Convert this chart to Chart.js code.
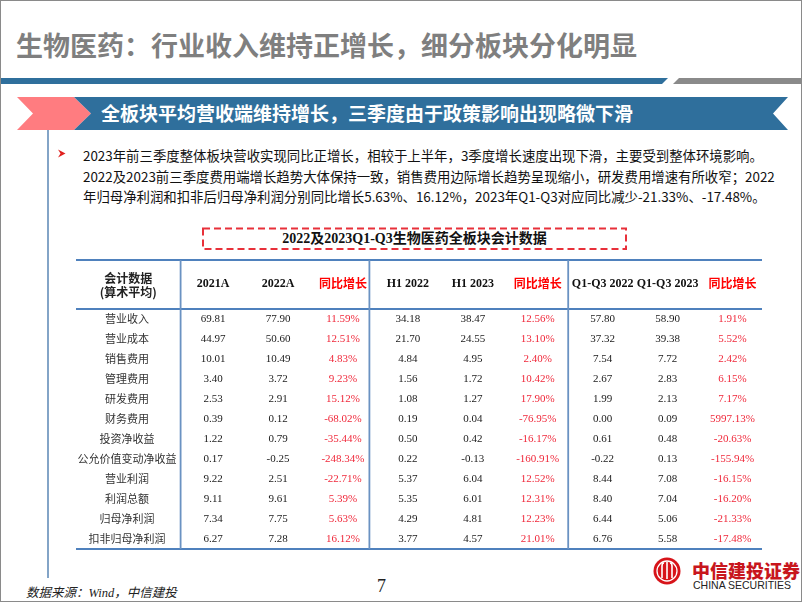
<!DOCTYPE html>
<html lang="zh">
<head>
    <meta charset="UTF-8">
    <title>生物医药会计数据</title>
    <script src="https://cdn.jsdelivr.net/npm/chart.js"></script>
    <style>
        body {
            margin: 0;
            background: #fff;
            font-family: 'Noto Sans CJK SC', sans-serif;
        }
        .slide {
            position: relative;
            width: 800px;
            height: 600px;
            border: 1px solid #8a8a8a;
            overflow: hidden;
        }
        .abs { position: absolute; white-space: nowrap; }
        .title {
            left: 15px; top: 26px;
            font-size: 27px; line-height: 36px;
            font-weight: bold; color: #7f7f7f;
        }
        .banner-text {
            left: 100px; top: 98px;
            font-size: 19px; line-height: 28px;
            font-weight: bold; color: #fff;
        }
        .bullet {
            left: 82px; top: 144px;
            font-size: 13.4px; line-height: 20.5px;
            color: #111;
        }
        .box-title {
            left: 202px; width: 423px; top: 227px;
            text-align: center;
            font-size: 14px; line-height: 22px;
            font-weight: bold; color: #111;
            font-family: 'Liberation Serif', 'Noto Sans CJK SC', serif;
        }
        .source {
            left: 25px; top: 583px;
            font-size: 12.5px; line-height: 18px;
            font-style: italic; color: #222;
            font-family: 'Liberation Serif', 'Noto Sans CJK SC', serif;
        }
        .page {
            left: 376px; top: 574px;
            font-size: 18px; line-height: 22px;
            font-family: 'Liberation Serif', serif; color: #222;
        }
        .logo-cn {
            left: 691px; top: 557px;
            font-size: 18px; line-height: 24px;
            font-weight: 900; color: #c8161d;
        }
        .logo-en {
            left: 692px; top: 577px;
            font-size: 10.5px; line-height: 14px;
            font-family: 'Liberation Sans', sans-serif; color: #222;
        }
        svg.deco, canvas { position: absolute; left: 0; top: 0; }
    </style>
</head>
<body>
<div class="slide">
    <svg class="deco" width="802" height="602">
        <!-- top bars -->
        <polygon points="0,77 667,77 661,83 0,83" fill="#2f6f9c"/>
        <polygon points="678,77 802,77 802,83 672,83" fill="#8a8a8a"/>
        <!-- ribbon -->
        <polygon points="16,96 73,96 90,112.5 73,129 16,129 32,112.5" fill="#ff7c80"/>
        <polygon points="73,96 787,96 772,112.5 787,129 73,129 90,112.5" fill="#2f6f9c"/>
        <!-- side line -->
        <line x1="47" y1="129" x2="47" y2="577" stroke="#5a86b4" stroke-width="1.5"/>
        <!-- bullet arrow -->
        <polygon points="57,148.5 64.5,152.5 57,156.5 59.5,152.5" fill="#e0201e"/>
        <!-- dashed box -->
        <rect x="202" y="227.5" width="423" height="20.5" fill="none" stroke="#e8303a" stroke-width="2" stroke-dasharray="7,4"/>
        <!-- logo -->
        <circle cx="666" cy="570" r="13.5" fill="#d7141a"/>
        <circle cx="666" cy="570" r="10" fill="none" stroke="#fff" stroke-width="1.3"/>
        <path d="M661,577 V565 Q661,562 663,562 M666,578 V561 M671,577 V565 Q671,562 669,562" stroke="#fff" stroke-width="1.6" fill="none"/>
    </svg>

    <div class="abs title">生物医药：行业收入维持正增长，细分板块分化明显</div>
    <div class="abs banner-text">全板块平均营收端维持增长，三季度由于政策影响出现略微下滑</div>
    <div class="abs bullet">
        2023年前三季度整体板块营收实现同比正增长，相较于上半年，3季度增长速度出现下滑，主要受到整体环境影响。<br>
        2022及2023前三季度费用端增长趋势大体保持一致，销售费用边际增长趋势呈现缩小，研发费用增速有所收窄；2022<br>
        年归母净利润和扣非后归母净利润分别同比增长5.63%、16.12%，2023年Q1-Q3对应同比减少-21.33%、-17.48%。
    </div>
    <div class="abs box-title">2022及2023Q1-Q3生物医药全板块会计数据</div>
    <div class="abs source">数据来源：Wind，中信建投</div>
    <div class="abs page">7</div>
    <div class="abs logo-cn">中信建投证券</div>
    <div class="abs logo-en">CHINA SECURITIES</div>

    <canvas id="tableChart" width="802" height="602"></canvas>
</div>

<script>
    // table data (算术平均)
    const rowNames = ['营业收入', '营业成本', '销售费用', '管理费用', '研发费用', '财务费用',
        '投资净收益', '公允价值变动净收益', '营业利润', '利润总额', '归母净利润', '扣非归母净利润'];
    const columns = ['2021A', '2022A', '同比增长', 'H1 2022', 'H1 2023', '同比增长',
        'Q1-Q3 2022', 'Q1-Q3 2023', '同比增长'];
    const yoyCols = [2, 5, 8];

    const v2021A = [69.81, 44.97, 10.01, 3.40, 2.53, 0.39, 1.22, 0.17, 9.22, 9.11, 7.34, 6.27];
    const v2022A = [77.90, 50.60, 10.49, 3.72, 2.91, 0.12, 0.79, -0.25, 2.51, 9.61, 7.75, 7.28];
    const yoyA = [11.59, 12.51, 4.83, 9.23, 15.12, -68.02, -35.44, -248.34, -22.71, 5.39, 5.63, 16.12];
    const h1_2022 = [34.18, 21.70, 4.84, 1.56, 1.08, 0.19, 0.50, 0.22, 5.37, 5.35, 4.29, 3.77];
    const h1_2023 = [38.47, 24.55, 4.95, 1.72, 1.27, 0.04, 0.42, -0.13, 6.04, 6.01, 4.81, 4.57];
    const yoyH1 = [12.56, 13.10, 2.40, 10.42, 17.90, -76.95, -16.17, -160.91, 12.52, 12.31, 12.23, 21.01];
    const q3_2022 = [57.80, 37.32, 7.54, 2.67, 1.99, 0.00, 0.61, -0.22, 8.44, 8.40, 6.44, 6.76];
    const q3_2023 = [58.90, 39.38, 7.72, 2.83, 2.13, 0.09, 0.48, 0.13, 7.08, 7.04, 5.06, 5.58];
    const yoyQ3 = [1.91, 5.52, 2.42, 6.15, 7.17, 5997.13, -20.63, -155.94, -16.15, -16.20, -21.33, -17.48];

    const columnValues = [v2021A, v2022A, yoyA, h1_2022, h1_2023, yoyH1, q3_2022, q3_2023, yoyQ3];

    const RED = '#f0283a';
    const LINE = '#4f81bd';

    const tablePlugin = {
        id: 'tablePlugin',
        beforeDraw(chart) {
            const c = chart.ctx;
            const xs = chart.scales.x, ys = chart.scales.y, area = chart.chartArea;
            const left = ys.left, right = area.right - 3;
            c.save();
            c.strokeStyle = LINE;
            c.lineWidth = 2;
            [xs.top, area.top, area.bottom].forEach(y => {
                c.beginPath(); c.moveTo(left, y); c.lineTo(right, y); c.stroke();
            });
            c.strokeStyle = '#6a92c2';
            c.lineWidth = 1.8;
            [area.left, xs.getPixelForValue(2.5) - 6, xs.getPixelForValue(5.5) - 2].forEach(x => {
                c.beginPath(); c.moveTo(x, xs.top); c.lineTo(x, area.bottom); c.stroke();
            });
            c.restore();
        },
        afterDatasetsDraw(chart) {
            const c = chart.ctx;
            c.save();
            c.textAlign = 'center';
            c.textBaseline = 'middle';
            c.font = '11px "Liberation Serif", serif';
            chart.data.datasets.forEach((ds, ci) => {
                const meta = chart.getDatasetMeta(ci);
                const isYoy = yoyCols.includes(ci);
                c.fillStyle = isYoy ? RED : '#1a1a1a';
                meta.data.forEach((pt, ri) => {
                    const v = columnValues[ci][ri];
                    c.fillText(v.toFixed(2) + (isYoy ? '%' : ''), pt.x, pt.y);
                });
            });
            // corner header
            const ys = chart.scales.y, xs = chart.scales.x;
            const cx = (ys.left + ys.right) / 2;
            const cy = (xs.top + xs.bottom) / 2;
            c.fillStyle = '#222';
            c.font = 'bold 12px "Noto Sans CJK SC", sans-serif';
            c.fillText('会计数据', cx, cy - 6.5);
            c.fillText('(算术平均)', cx, cy + 7.5);
            c.restore();
        }
    };

    const ctx = document.getElementById('tableChart').getContext('2d');
    const tableChart = new Chart(ctx, {
        type: 'scatter',
        data: {
            datasets: columns.map((col, ci) => ({
                label: col,
                data: rowNames.map((r, ri) => ({ x: ci, y: ri })),
                pointRadius: 0,
                pointHoverRadius: 0
            }))
        },
        options: {
            responsive: false,
            animation: false,
            events: [],
            layout: { padding: { left: 75, top: 259, right: 38, bottom: 54 } },
            plugins: { legend: { display: false }, tooltip: { enabled: false } },
            scales: {
                x: {
                    type: 'linear', position: 'top', min: -0.5, max: 8.5,
                    grid: { display: false, drawTicks: false },
                    border: { display: false },
                    afterBuildTicks: s => { s.ticks = columns.map((c, i) => ({ value: i })); },
                    afterFit: s => { s.height = 49; },
                    ticks: {
                        autoSkip: false, maxRotation: 0, padding: 18,
                        callback: v => columns[v],
                        color: c => yoyCols.includes(c.index) ? '#ff0000' : '#111',
                        font: c => yoyCols.includes(c.index)
                            ? { family: '"Noto Sans CJK SC", sans-serif', size: 12, weight: 'bold' }
                            : { family: '"Liberation Serif", serif', size: 12, weight: 'bold' }
                    }
                },
                y: {
                    type: 'linear', reverse: true, min: -0.5, max: 11.5,
                    grid: { display: false, drawTicks: false },
                    border: { display: false },
                    afterBuildTicks: s => { s.ticks = rowNames.map((r, i) => ({ value: i })); },
                    afterFit: s => { s.width = 104.6; },
                    ticks: {
                        autoSkip: false, crossAlign: 'center', padding: 4,
                        callback: v => rowNames[v],
                        color: '#333',
                        font: { family: '"Noto Sans CJK SC", sans-serif', size: 11 }
                    }
                }
            }
        },
        plugins: [tablePlugin]
    });
</script>
</body>
</html>
